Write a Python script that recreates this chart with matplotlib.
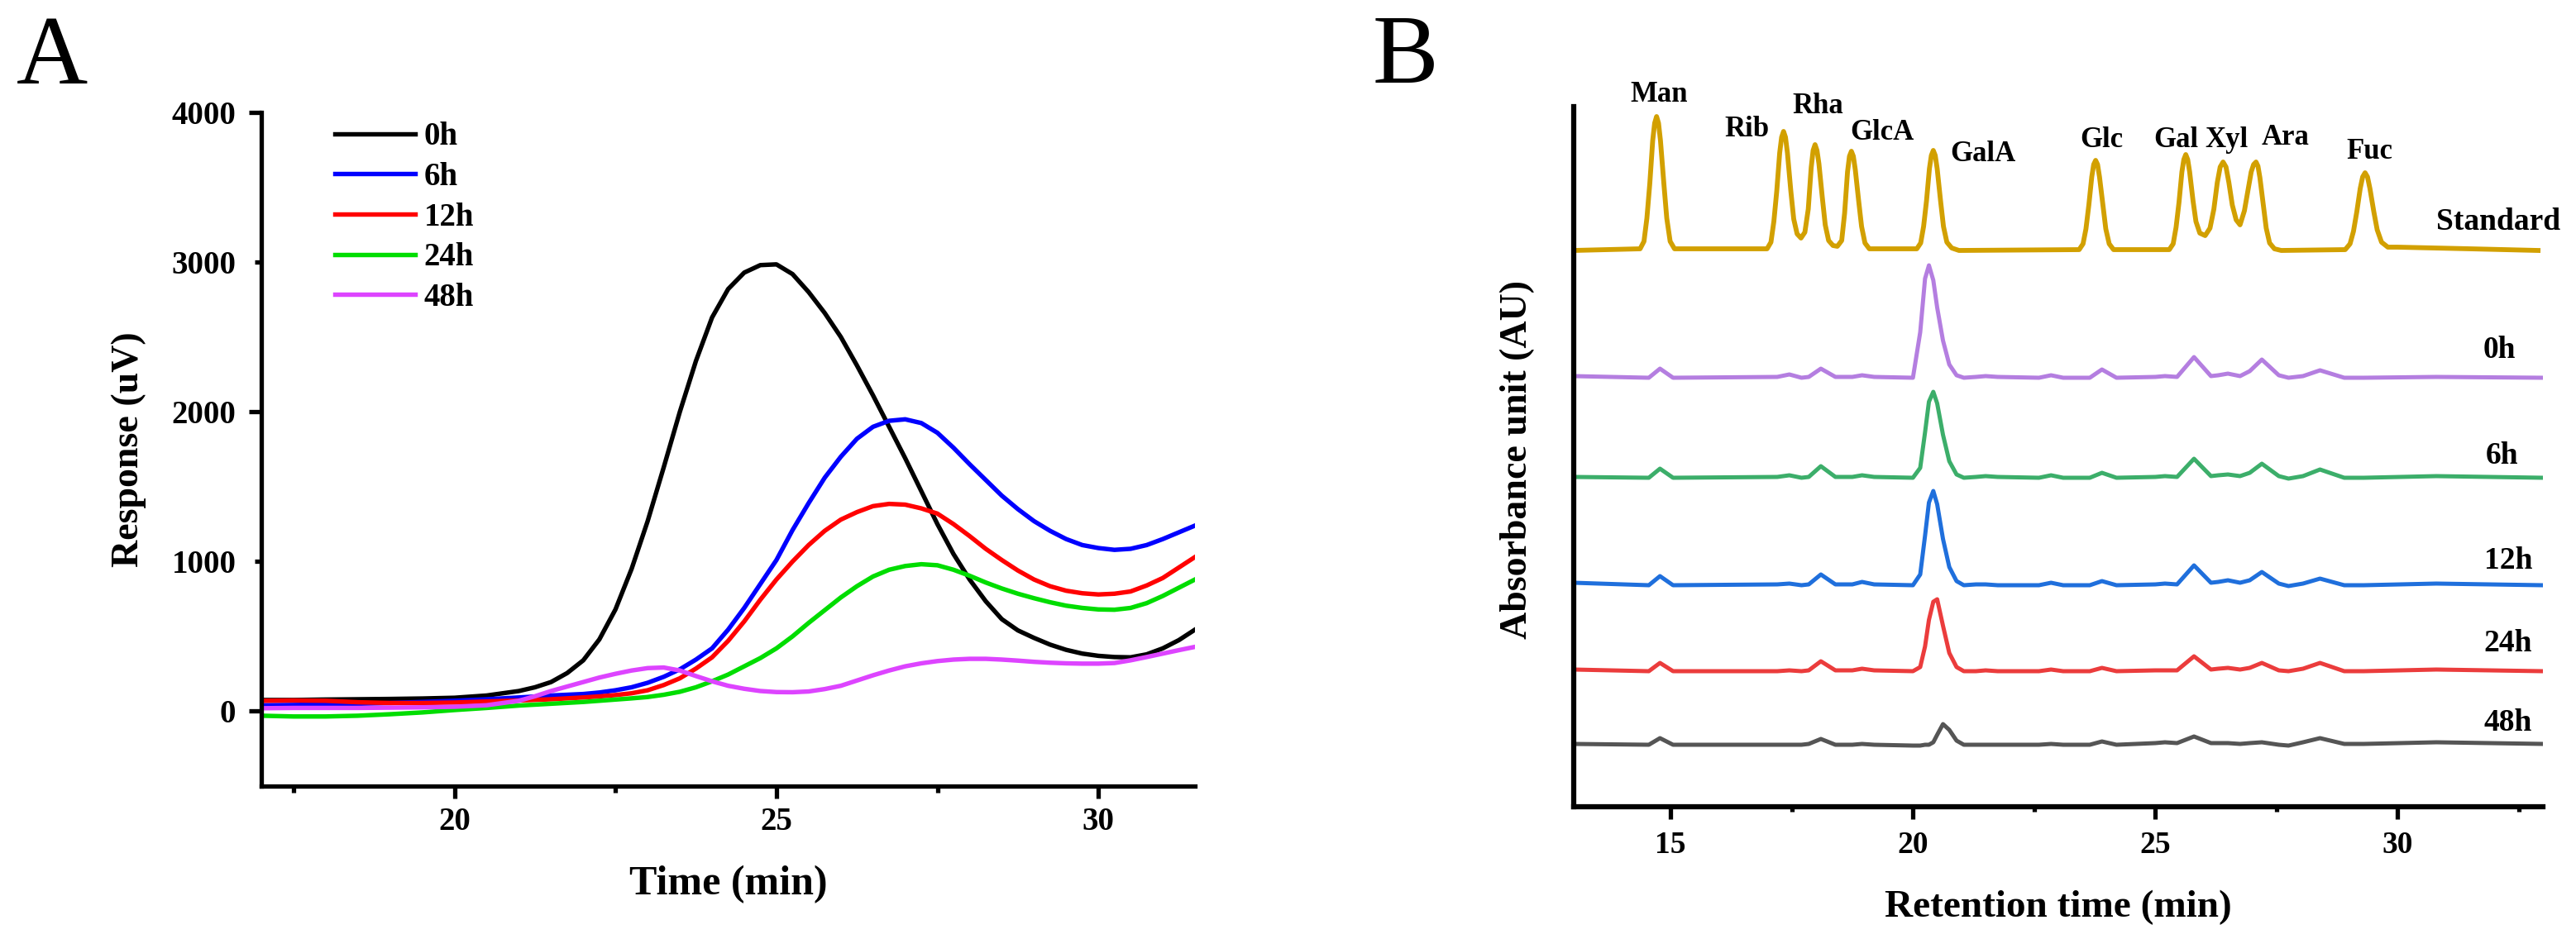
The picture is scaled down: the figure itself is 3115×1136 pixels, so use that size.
import matplotlib
matplotlib.use("Agg")
import matplotlib.pyplot as plt
from matplotlib.ticker import MultipleLocator, FuncFormatter

plt.rcParams['font.family'] = ['Liberation Serif', 'DejaVu Serif']
plt.rcParams['font.weight'] = 'bold'

# ---------------- panel A : response vs time ----------------
time_a = [17.0, 17.5, 18.0, 18.5, 19.0, 19.5, 20.0, 20.5, 21.0,
          21.25, 21.5, 21.75, 22.0, 22.25, 22.5, 22.75, 23.0, 23.25, 23.5,
          23.75, 24.0, 24.25, 24.5, 24.75, 25.0, 25.25, 25.5, 25.75, 26.0,
          26.25, 26.5, 26.75, 27.0, 27.25, 27.5, 27.75, 28.0, 28.25, 28.5,
          28.75, 29.0, 29.25, 29.5, 29.75, 30.0, 30.25, 30.5, 30.75, 31.0,
          31.25, 31.5]
resp_0h = [75, 75, 78, 80, 82, 85, 90, 105, 135,
           160, 195, 255, 340, 480, 680, 950, 1270, 1630, 2000,
           2340, 2630, 2820, 2930, 2980, 2985, 2920, 2800, 2660, 2500,
           2310, 2110, 1900, 1690, 1470, 1250, 1050, 880, 735, 615,
           540, 490, 445, 410, 385, 370, 362, 360, 380, 420,
           475, 545]
resp_6h = [40, 42, 45, 50, 55, 62, 70, 80, 92,
           98, 105, 110, 115, 125, 140, 160, 190, 230, 280,
           345, 420, 545, 690, 850, 1010, 1210, 1390, 1560, 1700,
           1820, 1900, 1940, 1950, 1925, 1860, 1760, 1650, 1545, 1440,
           1350, 1270, 1205, 1150, 1110, 1090, 1078, 1085, 1110, 1150,
           1195, 1240]
resp_12h = [70, 72, 70, 60, 55, 55, 58, 65, 72,
            76, 80, 86, 92, 99, 108, 120, 140, 175, 220,
            285, 360, 470, 600, 745, 880, 1000, 1110, 1205, 1280,
            1330, 1370, 1385, 1380, 1355, 1320, 1250, 1170, 1085, 1010,
            940, 880, 835, 805, 788, 780, 785, 800, 840, 890,
            960, 1030]
resp_24h = [-30, -35, -35, -30, -20, -8, 8, 22, 38,
            44, 50, 56, 62, 70, 78, 86, 95, 110, 130,
            160, 200, 245, 300, 355, 420, 500, 590, 675, 760,
            835, 900, 945, 970, 982, 975, 945, 905, 860, 820,
            785, 755, 728, 705, 690, 680, 678, 690, 722, 770,
            825, 880]
resp_48h = [20, 22, 22, 22, 24, 26, 30, 40, 70,
            100, 135, 165, 195, 225, 250, 272, 288, 292, 272,
            235, 200, 170, 150, 135, 128, 127, 132, 148, 170,
            205, 240, 272, 300, 320, 335, 345, 350, 350, 345,
            338, 330, 324, 320, 318, 318, 322, 340, 362, 385,
            408, 430]
series_a = ['0h', '6h', '12h', '24h', '48h']
colors_a = ['#000000', '#0000ff', '#ff0000', '#00dd00', '#dd44ff']

# ---------------- panel B : stacked chromatograms ----------------
rt_std = [13.0,
          14.37, 14.45, 14.51, 14.57, 14.63, 14.67, 14.71, 14.75, 14.79, 14.86, 14.92, 14.99, 15.08,
          16.99, 17.07, 17.13, 17.19, 17.25, 17.29, 17.33, 17.37, 17.41, 17.48, 17.54, 17.61, 17.69,
          17.77, 17.84, 17.9, 17.94, 17.98, 18.02, 18.06, 18.13, 18.19, 18.26, 18.35, 18.44,
          18.53, 18.59, 18.65, 18.69, 18.73, 18.77, 18.81, 18.88, 18.94, 19.01, 19.1,
          20.08, 20.16, 20.22, 20.28, 20.34, 20.38, 20.42, 20.46, 20.5, 20.57, 20.63, 20.7, 20.8, 20.95,
          23.43, 23.51, 23.57, 23.63, 23.69, 23.73, 23.77, 23.81, 23.85, 23.92, 23.98, 24.05, 24.14,
          25.29, 25.37, 25.43, 25.49, 25.55, 25.59, 25.63, 25.67, 25.71, 25.78, 25.84, 25.92, 26.03,
          26.13, 26.21, 26.28, 26.34, 26.4, 26.46, 26.52, 26.59, 26.67, 26.75,
          26.84, 26.92, 26.98, 27.03, 27.08, 27.12, 27.16, 27.23, 27.29, 27.36, 27.46, 27.6,
          28.92, 29.02, 29.09, 29.16, 29.23, 29.28, 29.33, 29.38, 29.43, 29.51, 29.58, 29.67, 29.8, 30.0,
          31.5, 32.9]
abs_std = [0,
           2, 11, 39, 81, 133, 154, 162, 154, 133, 81, 39, 11, 2,
           2, 10, 35, 72, 118, 137, 144, 137, 118, 72, 38, 20, 15,
           22, 50, 100, 121, 128, 121, 105, 64, 31, 12, 6, 5,
           12, 45, 95, 114, 120, 114, 98, 60, 29, 9, 2,
           2, 9, 29, 60, 99, 115, 121, 115, 99, 60, 29, 10, 3, 0,
           1, 8, 26, 55, 89, 104, 109, 104, 89, 55, 26, 8, 1,
           1, 8, 28, 58, 95, 110, 116, 110, 95, 60, 35, 21, 18,
           27, 50, 82, 101, 107, 101, 82, 55, 37, 31,
           48, 75, 95, 104, 107, 102, 88, 55, 27, 9, 2, 0,
           1, 8, 23, 47, 75, 89, 94, 89, 75, 47, 25, 10, 4, 4,
           2, 0]

rt_smp = [13.0, 14.55, 14.78, 15.05, 17.2, 17.45, 17.7, 17.85, 18.1, 18.4,
          18.75, 18.95, 19.2, 20.0, 20.15, 20.25, 20.33, 20.42, 20.5, 20.62,
          20.75, 20.9, 21.05, 21.3, 21.5, 21.75, 22.6, 22.85, 23.1, 23.65,
          23.9, 24.2, 25.0, 25.2, 25.45, 25.8, 26.15, 26.3, 26.5, 26.75,
          26.95, 27.2, 27.55, 27.75, 28.05, 28.4, 28.9, 29.3, 30.8, 33.0]
abs_0h = [2, 0, 11, 0, 1, 4, 0, 1, 11, 1,
          1, 3, 1, 0, 55, 120, 136, 118, 85, 45,
          16, 3, 0, 1, 2, 1, 0, 3, 0, 0,
          10, 0, 1, 2, 1, 25, 2, 3, 5, 2,
          8, 22, 3, 0, 2, 9, 0, 0, 1, 0]
abs_6h = [1, 0, 11, 0, 1, 3, 0, 1, 14, 1,
          1, 3, 1, 0, 12, 55, 92, 104, 90, 52,
          20, 4, 0, 1, 2, 1, 0, 3, 0, 0,
          6, 0, 1, 2, 1, 23, 2, 3, 4, 2,
          6, 17, 2, -1, 2, 10, 0, 0, 2, 0]
abs_12h = [3, 0, 11, 0, 1, 2, 0, 1, 13, 1,
           1, 4, 1, 0, 13, 60, 100, 114, 98, 56,
           22, 5, 0, 1, 1, 0, 0, 3, 0, 0,
           5, 0, 1, 2, 1, 24, 3, 4, 6, 3,
           6, 16, 2, -1, 2, 8, 0, 0, 2, 0]
abs_24h = [2, 0, 10, 0, 0, 1, 0, 1, 12, 1,
           1, 3, 1, 0, 5, 30, 62, 84, 87, 55,
           22, 5, 0, 0, 1, 0, 0, 2, 0, 0,
           4, 0, 1, 1, 1, 18, 2, 3, 4, 2,
           4, 10, 1, 0, 3, 10, 0, 0, 2, 0]
abs_48h = [1, 0, 8, 0, 0, 0, 0, 1, 7, 0,
           0, 1, 0, -1, -1, 0, 0, 3, 12, 25,
           18, 5, 0, 0, 0, 0, 0, 1, 0, 0,
           4, 0, 2, 3, 2, 10, 2, 2, 2, 1,
           2, 3, 0, -1, 3, 8, 1, 1, 3, 1]

traces_b = ['Standard', '0h', '6h', '12h', '24h', '48h']
colors_b = ['#d2a000', '#b47ee0', '#3cae6a', '#1f6fdc', '#eb3c3c', '#555555']
offsets_b = [673, 519, 398, 268, 164, 75]

sugars = ['Man', 'Rib', 'Rha', 'GlcA', 'GalA', 'Glc', 'Gal', 'Xyl', 'Ara', 'Fuc']
sugar_pos = [(14.76, 853), (16.58, 811), (18.03, 839), (19.37, 807), (21.45, 781),
             (23.89, 798), (25.43, 798), (26.48, 798), (27.68, 801), (29.43, 784)]
trace_label_pos = [(33.36, 698), (32.11, 543), (32.16, 415), (32.28, 288),
                   (32.28, 188), (32.28, 92)]

W, H = 3115, 1136
fig = plt.figure(figsize=(W / 100, H / 100), dpi=100)


def frame(left, top, right, bottom):
    return [left / W, 1 - bottom / H, (right - left) / W, (bottom - top) / H]


# ---- panel A ----
ax1 = fig.add_axes(frame(316, 136, 1445, 951))
for name, col, vals in zip(series_a, colors_a,
                           [resp_0h, resp_6h, resp_12h, resp_24h, resp_48h]):
    ax1.plot(time_a, vals, color=col, lw=3.9, label=name, solid_joinstyle='round')
ax1.set_xlim(17, 31.5)
ax1.set_ylim(-500, 4000)
ax1.spines[['top', 'right']].set_visible(False)
for s in ['left', 'bottom']:
    ax1.spines[s].set_linewidth(3.8)
ax1.xaxis.set_major_locator(MultipleLocator(5))
ax1.xaxis.set_minor_locator(MultipleLocator(2.5))
ax1.yaxis.set_major_locator(MultipleLocator(2000))
ax1.yaxis.set_minor_locator(MultipleLocator(1000))
ax1.yaxis.set_minor_formatter(FuncFormatter(lambda v, p: f'{v:.0f}'))
ax1.tick_params(which='major', direction='out', length=11, width=3.8, labelsize=28)
ax1.tick_params(which='minor', direction='out', length=5.5, width=3.8, labelsize=28)
ax1.tick_params(axis='x', which='major', pad=7)
ax1.tick_params(axis='y', which='major', pad=11)
ax1.tick_params(axis='y', which='minor', pad=16.5)
ax1.set_xlabel('Time (min)', fontsize=36, fontweight='bold')
ax1.set_ylabel('Response (uV)', fontsize=33, fontweight='bold')
ax1.xaxis.set_label_coords(0.5, (951 - 1070) / 815)
ax1.yaxis.set_label_coords((156 - 316) / 1129, 0.5)
ax1.xaxis.label.set_verticalalignment('center')
ax1.yaxis.label.set_verticalalignment('center')
leg = ax1.legend(loc='upper left', bbox_to_anchor=(0.079, 0.986), frameon=False,
                 fontsize=28, handlelength=2.5, handletextpad=0.26,
                 labelspacing=0.3, borderpad=0, borderaxespad=0)

# ---- panel B ----
ax2 = fig.add_axes(frame(1903, 129, 3075, 976))
widths_b = [4.2, 3.6, 3.6, 3.6, 3.6, 3.6]
for name, col, off, lw, xs, ys in zip(traces_b, colors_b, offsets_b, widths_b,
                                      [rt_std] + [rt_smp] * 5,
                                      [abs_std, abs_0h, abs_6h, abs_12h, abs_24h, abs_48h]):
    ax2.plot(xs, [off + v for v in ys], color=col, lw=lw, solid_joinstyle='round')
ax2.set_xlim(13, 33)
ax2.set_ylim(0, 847)
ax2.spines[['top', 'right']].set_visible(False)
for s in ['left', 'bottom']:
    ax2.spines[s].set_linewidth(4.5)
ax2.set_yticks([])
ax2.xaxis.set_major_locator(MultipleLocator(5))
ax2.xaxis.set_minor_locator(MultipleLocator(2.5))
ax2.tick_params(which='major', direction='out', length=11, width=3.8,
                labelsize=27, pad=10)
ax2.tick_params(which='minor', direction='out', length=4, width=3.8)
ax2.set_xlabel('Retention time (min)', fontsize=34, fontweight='bold')
ax2.set_ylabel('Absorbance unit (AU)', fontsize=33, fontweight='bold')
ax2.xaxis.set_label_coords(0.5, (976 - 1098) / 847)
ax2.yaxis.set_label_coords((1835 - 1903) / 1172, (976 - 556) / 847)
ax2.xaxis.label.set_verticalalignment('center')
ax2.yaxis.label.set_verticalalignment('center')

for name, (x, y) in zip(sugars, sugar_pos):
    ax2.text(x, y, name, ha='center', va='baseline', fontsize=25,
             fontweight='bold', clip_on=False)
for i, (name, (x, y)) in enumerate(zip(traces_b, trace_label_pos)):
    ax2.text(x, y, name, ha='right' if i == 0 else 'center', va='baseline',
             fontsize=27, fontweight='bold', clip_on=False)

fig.text(20 / W, 1 - 101 / H, 'A', fontsize=86, fontweight='normal',
         ha='left', va='baseline')
fig.text(1660 / W, 1 - 100 / H, 'B', fontsize=86, fontweight='normal',
         ha='left', va='baseline')

fig.savefig('out.png', dpi=100)
